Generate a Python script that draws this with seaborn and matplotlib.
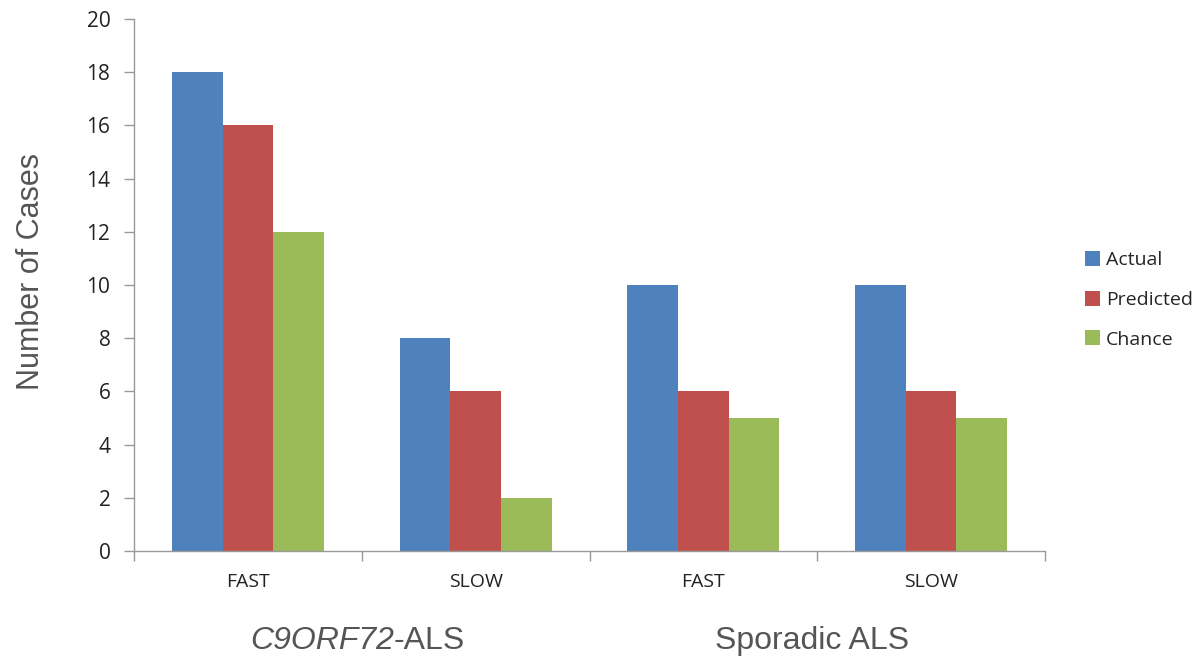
import matplotlib
matplotlib.use("Agg")
import matplotlib.pyplot as plt
import seaborn as sns
import pandas as pd
from matplotlib.patches import Patch

# Data
categories = ["C9 FAST", "C9 SLOW", "SP FAST", "SP SLOW"]
tick_labels = ["FAST", "SLOW", "FAST", "SLOW"]
group_labels = ["C9ORF72", "Sporadic ALS"]
series = ["Actual", "Predicted", "Chance"]
actual = [18, 8, 10, 10]
predicted = [16, 6, 6, 6]
chance = [12, 2, 5, 5]

colors = ["#4F81BD", "#C0504D", "#9BBB59"]

rows = []
for name, vals in zip(series, [actual, predicted, chance]):
    for cat, v in zip(categories, vals):
        rows.append({"category": cat, "series": name, "value": v})
df = pd.DataFrame(rows)

sns.set_style("white")
plt.rcParams["font.family"] = ["Liberation Sans", "DejaVu Sans"]

fig = plt.figure(figsize=(12.03, 6.65), dpi=100)
ax = fig.add_axes([0.1114, 0.1714, 0.7573, 0.8])

sns.barplot(data=df, x="category", y="value", hue="series", order=categories,
            hue_order=series, palette=colors, width=0.667, saturation=1,
            edgecolor="none", linewidth=0, ax=ax, legend=False)

ax.set_xlim(-0.5, len(categories) - 0.5)
ax.set_ylim(0, 20)
ax.set_yticks(range(0, 21, 2))
ax.set_yticklabels([str(v) for v in range(0, 21, 2)], fontsize=15,
                   family="Open Sans", color="#222222")

ax.set_xticks(range(len(categories)))
ax.set_xticklabels(tick_labels, fontsize=14, family="Open Sans", color="#222222")
ax.tick_params(axis="x", which="major", length=0, pad=16)
ax.set_xticks([i - 0.5 for i in range(len(categories) + 1)], minor=True)
ax.tick_params(axis="x", which="minor", length=7, width=1, color="#999999",
               direction="out", bottom=True)
ax.tick_params(axis="y", length=7, width=1, color="#999999", direction="out",
               left=True, pad=10)

for side in ["top", "right"]:
    ax.spines[side].set_visible(False)
for side in ["left", "bottom"]:
    ax.spines[side].set_color("#999999")
    ax.spines[side].set_linewidth(1)

ax.set_xlabel("")
ax.set_ylabel("Number of Cases", fontsize=22, color="#555555")
ax.yaxis.set_label_coords(-0.097, 0.526)

# Group labels beneath the category ticks
xform = ax.get_xaxis_transform()
ax.text(0.64, -0.169, "C9ORF72", transform=xform,
        ha="right", va="center", fontsize=23, color="#555555", style="italic")
ax.text(0.64, -0.169, "-ALS", transform=xform,
        ha="left", va="center", fontsize=23, color="#555555")
ax.text(2.475, -0.169, group_labels[1], transform=xform,
        ha="center", va="center", fontsize=23, color="#555555")

handles = [Patch(facecolor=c, edgecolor="none", label=s) for c, s in zip(colors, series)]
ax.legend(handles=handles, loc="center left", bbox_to_anchor=(1.035, 0.472),
          frameon=False, handlelength=0.8, handleheight=0.8, handletextpad=0.3,
          labelspacing=1.1, borderaxespad=0,
          prop={"family": "Open Sans", "size": 14})

fig.savefig("out.png", dpi=100)
